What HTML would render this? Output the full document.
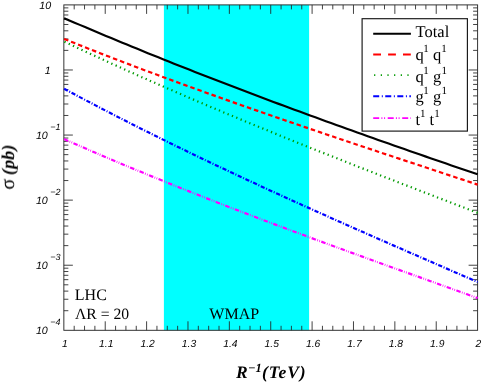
<!DOCTYPE html>
<html><head><meta charset="utf-8"><title>chart</title>
<style>html,body{margin:0;padding:0;background:#fff;}svg{display:block;}text{font-family:"Liberation Sans",sans-serif;fill:#000;text-rendering:geometricPrecision;}.ser{font-family:"Liberation Serif",serif;}.tk{font-family:"Liberation Sans",sans-serif;font-style:italic;}</style></head><body>
<svg width="481" height="382" viewBox="0 0 481 382">
<rect x="0" y="0" width="481" height="382" fill="#ffffff"/>
<rect x="163.9" y="4.9" width="145.20" height="325.40" fill="#00ffff"/>
<path d="M74.19,330.3 v-4.5 M74.19,4.9 v4.5 M84.54,330.3 v-4.5 M84.54,4.9 v4.5 M94.88,330.3 v-4.5 M94.88,4.9 v4.5 M105.23,330.3 v-9.0 M105.23,4.9 v9.0 M115.57,330.3 v-4.5 M115.57,4.9 v4.5 M125.91,330.3 v-4.5 M125.91,4.9 v4.5 M136.26,330.3 v-4.5 M136.26,4.9 v4.5 M146.60,330.3 v-9.0 M146.60,4.9 v9.0 M156.94,330.3 v-4.5 M156.94,4.9 v4.5 M167.29,330.3 v-4.5 M167.29,4.9 v4.5 M177.63,330.3 v-4.5 M177.63,4.9 v4.5 M187.98,330.3 v-9.0 M187.98,4.9 v9.0 M198.32,330.3 v-4.5 M198.32,4.9 v4.5 M208.66,330.3 v-4.5 M208.66,4.9 v4.5 M219.01,330.3 v-4.5 M219.01,4.9 v4.5 M229.35,330.3 v-9.0 M229.35,4.9 v9.0 M239.69,330.3 v-4.5 M239.69,4.9 v4.5 M250.04,330.3 v-4.5 M250.04,4.9 v4.5 M260.38,330.3 v-4.5 M260.38,4.9 v4.5 M270.73,330.3 v-9.0 M270.73,4.9 v9.0 M281.07,330.3 v-4.5 M281.07,4.9 v4.5 M291.41,330.3 v-4.5 M291.41,4.9 v4.5 M301.76,330.3 v-4.5 M301.76,4.9 v4.5 M312.10,330.3 v-9.0 M312.10,4.9 v9.0 M322.44,330.3 v-4.5 M322.44,4.9 v4.5 M332.79,330.3 v-4.5 M332.79,4.9 v4.5 M343.13,330.3 v-4.5 M343.13,4.9 v4.5 M353.48,330.3 v-9.0 M353.48,4.9 v9.0 M363.82,330.3 v-4.5 M363.82,4.9 v4.5 M374.16,330.3 v-4.5 M374.16,4.9 v4.5 M384.51,330.3 v-4.5 M384.51,4.9 v4.5 M394.85,330.3 v-9.0 M394.85,4.9 v9.0 M405.19,330.3 v-4.5 M405.19,4.9 v4.5 M415.54,330.3 v-4.5 M415.54,4.9 v4.5 M425.88,330.3 v-4.5 M425.88,4.9 v4.5 M436.22,330.3 v-9.0 M436.22,4.9 v9.0 M446.57,330.3 v-4.5 M446.57,4.9 v4.5 M456.91,330.3 v-4.5 M456.91,4.9 v4.5 M467.26,330.3 v-4.5 M467.26,4.9 v4.5 M63.85,310.71 h4.5 M477.6,310.71 h-4.5 M63.85,299.25 h4.5 M477.6,299.25 h-4.5 M63.85,291.12 h4.5 M477.6,291.12 h-4.5 M63.85,284.81 h4.5 M477.6,284.81 h-4.5 M63.85,279.66 h4.5 M477.6,279.66 h-4.5 M63.85,275.30 h4.5 M477.6,275.30 h-4.5 M63.85,271.53 h4.5 M477.6,271.53 h-4.5 M63.85,268.20 h4.5 M477.6,268.20 h-4.5 M63.85,265.22 h9.0 M477.6,265.22 h-9.0 M63.85,245.63 h4.5 M477.6,245.63 h-4.5 M63.85,234.17 h4.5 M477.6,234.17 h-4.5 M63.85,226.04 h4.5 M477.6,226.04 h-4.5 M63.85,219.73 h4.5 M477.6,219.73 h-4.5 M63.85,214.58 h4.5 M477.6,214.58 h-4.5 M63.85,210.22 h4.5 M477.6,210.22 h-4.5 M63.85,206.45 h4.5 M477.6,206.45 h-4.5 M63.85,203.12 h4.5 M477.6,203.12 h-4.5 M63.85,200.14 h9.0 M477.6,200.14 h-9.0 M63.85,180.55 h4.5 M477.6,180.55 h-4.5 M63.85,169.09 h4.5 M477.6,169.09 h-4.5 M63.85,160.96 h4.5 M477.6,160.96 h-4.5 M63.85,154.65 h4.5 M477.6,154.65 h-4.5 M63.85,149.50 h4.5 M477.6,149.50 h-4.5 M63.85,145.14 h4.5 M477.6,145.14 h-4.5 M63.85,141.37 h4.5 M477.6,141.37 h-4.5 M63.85,138.04 h4.5 M477.6,138.04 h-4.5 M63.85,135.06 h9.0 M477.6,135.06 h-9.0 M63.85,115.47 h4.5 M477.6,115.47 h-4.5 M63.85,104.01 h4.5 M477.6,104.01 h-4.5 M63.85,95.88 h4.5 M477.6,95.88 h-4.5 M63.85,89.57 h4.5 M477.6,89.57 h-4.5 M63.85,84.42 h4.5 M477.6,84.42 h-4.5 M63.85,80.06 h4.5 M477.6,80.06 h-4.5 M63.85,76.29 h4.5 M477.6,76.29 h-4.5 M63.85,72.96 h4.5 M477.6,72.96 h-4.5 M63.85,69.98 h9.0 M477.6,69.98 h-9.0 M63.85,50.39 h4.5 M477.6,50.39 h-4.5 M63.85,38.93 h4.5 M477.6,38.93 h-4.5 M63.85,30.80 h4.5 M477.6,30.80 h-4.5 M63.85,24.49 h4.5 M477.6,24.49 h-4.5 M63.85,19.34 h4.5 M477.6,19.34 h-4.5 M63.85,14.98 h4.5 M477.6,14.98 h-4.5 M63.85,11.21 h4.5 M477.6,11.21 h-4.5 M63.85,7.88 h4.5 M477.6,7.88 h-4.5" stroke="#222" stroke-width="0.85" fill="none"/>
<rect x="63.85" y="4.9" width="413.75" height="325.40" fill="none" stroke="#2a2a2a" stroke-width="0.95"/>
<g fill="none" stroke-linejoin="round">
<path d="M64.10,139.06 L69.33,141.38 L74.57,143.68 L79.80,145.97 L85.04,148.25 L90.27,150.52 L95.51,152.78 L100.74,155.02 L105.97,157.26 L111.21,159.48 L116.44,161.69 L121.68,163.89 L126.91,166.08 L132.14,168.27 L137.38,170.44 L142.61,172.60 L147.85,174.75 L153.08,176.89 L158.32,179.02 L163.55,181.14 L168.78,183.26 L174.02,185.36 L179.25,187.46 L184.49,189.55 L189.72,191.62 L194.95,193.69 L200.19,195.76 L205.42,197.81 L210.66,199.86 L215.89,201.90 L221.13,203.93 L226.36,205.96 L231.59,207.97 L236.83,209.99 L242.06,211.99 L247.30,213.99 L252.53,215.98 L257.76,217.96 L263.00,219.94 L268.23,221.92 L273.47,223.89 L278.70,225.85 L283.94,227.81 L289.17,229.76 L294.40,231.71 L299.64,233.65 L304.87,235.59 L310.11,237.52 L315.34,239.45 L320.57,241.37 L325.81,243.30 L331.04,245.21 L336.28,247.13 L341.51,249.04 L346.75,250.95 L351.98,252.85 L357.21,254.75 L362.45,256.65 L367.68,258.55 L372.92,260.44 L378.15,262.33 L383.38,264.22 L388.62,266.11 L393.85,268.00 L399.09,269.88 L404.32,271.77 L409.56,273.65 L414.79,275.53 L420.02,277.41 L425.26,279.29 L430.49,281.17 L435.73,283.05 L440.96,284.93 L446.19,286.81 L451.43,288.69 L456.66,290.57 L461.90,292.45 L467.13,294.34 L472.37,296.22 L477.60,298.10" stroke="#ff00ff" stroke-width="2.2" stroke-dasharray="4.5 1.45 0.7 1.45 0.7 1.4575"/>
<path d="M64.10,88.73 L69.33,91.54 L74.57,94.33 L79.80,97.11 L85.04,99.88 L90.27,102.63 L95.51,105.37 L100.74,108.10 L105.97,110.81 L111.21,113.51 L116.44,116.20 L121.68,118.88 L126.91,121.54 L132.14,124.20 L137.38,126.84 L142.61,129.47 L147.85,132.08 L153.08,134.69 L158.32,137.29 L163.55,139.87 L168.78,142.44 L174.02,145.01 L179.25,147.56 L184.49,150.10 L189.72,152.64 L194.95,155.16 L200.19,157.68 L205.42,160.18 L210.66,162.67 L215.89,165.16 L221.13,167.64 L226.36,170.11 L231.59,172.57 L236.83,175.02 L242.06,177.46 L247.30,179.90 L252.53,182.33 L257.76,184.75 L263.00,187.16 L268.23,189.57 L273.47,191.97 L278.70,194.36 L283.94,196.74 L289.17,199.12 L294.40,201.50 L299.64,203.86 L304.87,206.22 L310.11,208.58 L315.34,210.93 L320.57,213.27 L325.81,215.61 L331.04,217.94 L336.28,220.27 L341.51,222.60 L346.75,224.91 L351.98,227.23 L357.21,229.54 L362.45,231.85 L367.68,234.15 L372.92,236.45 L378.15,238.75 L383.38,241.04 L388.62,243.33 L393.85,245.62 L399.09,247.90 L404.32,250.19 L409.56,252.47 L414.79,254.74 L420.02,257.02 L425.26,259.29 L430.49,261.57 L435.73,263.84 L440.96,266.11 L446.19,268.38 L451.43,270.65 L456.66,272.91 L461.90,275.18 L467.13,277.45 L472.37,279.71 L477.60,281.98" stroke="#0000ff" stroke-width="2.2" stroke-dasharray="4.2 1.62 1.0 1.6226"/>
<path d="M64.10,41.57 L69.33,44.04 L74.57,46.50 L79.80,48.94 L85.04,51.38 L90.27,53.80 L95.51,56.22 L100.74,58.62 L105.97,61.02 L111.21,63.40 L116.44,65.77 L121.68,68.13 L126.91,70.49 L132.14,72.83 L137.38,75.16 L142.61,77.49 L147.85,79.80 L153.08,82.11 L158.32,84.40 L163.55,86.69 L168.78,88.97 L174.02,91.24 L179.25,93.50 L184.49,95.75 L189.72,98.00 L194.95,100.24 L200.19,102.46 L205.42,104.69 L210.66,106.90 L215.89,109.10 L221.13,111.30 L226.36,113.49 L231.59,115.68 L236.83,117.85 L242.06,120.02 L247.30,122.19 L252.53,124.34 L257.76,126.50 L263.00,128.64 L268.23,130.78 L273.47,132.91 L278.70,135.03 L283.94,137.15 L289.17,139.27 L294.40,141.38 L299.64,143.48 L304.87,145.58 L310.11,147.67 L315.34,149.76 L320.57,151.85 L325.81,153.92 L331.04,156.00 L336.28,158.07 L341.51,160.14 L346.75,162.20 L351.98,164.25 L357.21,166.31 L362.45,168.36 L367.68,170.41 L372.92,172.45 L378.15,174.49 L383.38,176.53 L388.62,178.56 L393.85,180.59 L399.09,182.62 L404.32,184.64 L409.56,186.67 L414.79,188.69 L420.02,190.71 L425.26,192.72 L430.49,194.74 L435.73,196.75 L440.96,198.76 L446.19,200.77 L451.43,202.78 L456.66,204.79 L461.90,206.80 L467.13,208.80 L472.37,210.81 L477.60,212.81" stroke="#009900" stroke-width="2.2" stroke-dasharray="1.3 3.3951" stroke-dashoffset="-0.35"/>
<path d="M64.10,38.91 L69.33,41.01 L74.57,43.10 L79.80,45.18 L85.04,47.26 L90.27,49.32 L95.51,51.37 L100.74,53.41 L105.97,55.44 L111.21,57.47 L116.44,59.48 L121.68,61.48 L126.91,63.48 L132.14,65.47 L137.38,67.45 L142.61,69.42 L147.85,71.38 L153.08,73.33 L158.32,75.28 L163.55,77.21 L168.78,79.14 L174.02,81.07 L179.25,82.98 L184.49,84.89 L189.72,86.79 L194.95,88.68 L200.19,90.57 L205.42,92.45 L210.66,94.32 L215.89,96.19 L221.13,98.05 L226.36,99.90 L231.59,101.75 L236.83,103.60 L242.06,105.43 L247.30,107.26 L252.53,109.09 L257.76,110.91 L263.00,112.73 L268.23,114.54 L273.47,116.34 L278.70,118.14 L283.94,119.94 L289.17,121.73 L294.40,123.52 L299.64,125.31 L304.87,127.09 L310.11,128.86 L315.34,130.64 L320.57,132.41 L325.81,134.17 L331.04,135.93 L336.28,137.69 L341.51,139.45 L346.75,141.21 L351.98,142.96 L357.21,144.71 L362.45,146.45 L367.68,148.20 L372.92,149.94 L378.15,151.68 L383.38,153.42 L388.62,155.16 L393.85,156.90 L399.09,158.63 L404.32,160.36 L409.56,162.10 L414.79,163.83 L420.02,165.56 L425.26,167.29 L430.49,169.02 L435.73,170.75 L440.96,172.48 L446.19,174.21 L451.43,175.94 L456.66,177.67 L461.90,179.41 L467.13,181.14 L472.37,182.87 L477.60,184.60" stroke="#ff0000" stroke-width="2.2" stroke-dasharray="4.5 3.0055"/>
<path d="M64.10,18.16 L69.33,20.41 L74.57,22.65 L79.80,24.88 L85.04,27.10 L90.27,29.32 L95.51,31.53 L100.74,33.72 L105.97,35.91 L111.21,38.09 L116.44,40.26 L121.68,42.43 L126.91,44.58 L132.14,46.73 L137.38,48.87 L142.61,51.00 L147.85,53.13 L153.08,55.24 L158.32,57.35 L163.55,59.45 L168.78,61.54 L174.02,63.63 L179.25,65.71 L184.49,67.78 L189.72,69.84 L194.95,71.89 L200.19,73.94 L205.42,75.99 L210.66,78.02 L215.89,80.05 L221.13,82.07 L226.36,84.08 L231.59,86.09 L236.83,88.09 L242.06,90.09 L247.30,92.07 L252.53,94.05 L257.76,96.03 L263.00,98.00 L268.23,99.96 L273.47,101.92 L278.70,103.87 L283.94,105.81 L289.17,107.75 L294.40,109.69 L299.64,111.61 L304.87,113.54 L310.11,115.45 L315.34,117.36 L320.57,119.27 L325.81,121.17 L331.04,123.07 L336.28,124.96 L341.51,126.84 L346.75,128.72 L351.98,130.60 L357.21,132.47 L362.45,134.33 L367.68,136.19 L372.92,138.05 L378.15,139.90 L383.38,141.75 L388.62,143.59 L393.85,145.43 L399.09,147.27 L404.32,149.10 L409.56,150.92 L414.79,152.75 L420.02,154.57 L425.26,156.38 L430.49,158.19 L435.73,160.00 L440.96,161.80 L446.19,163.60 L451.43,165.40 L456.66,167.19 L461.90,168.99 L467.13,170.77 L472.37,172.56 L477.60,174.34" stroke="#000000" stroke-width="2.15"/>
</g>
<g opacity="0.999">
<text class="tk" x="51.2" y="8.70" font-size="10.7" text-anchor="end">10</text>
<text class="tk" x="50.8" y="73.78" font-size="10.7" text-anchor="end">1</text>
<text class="tk" x="47.8" y="138.86" font-size="10.7" text-anchor="end">10</text>
<text class="tk" x="50.2" y="129.76" font-size="9">−1</text>
<text class="tk" x="47.8" y="203.94" font-size="10.7" text-anchor="end">10</text>
<text class="tk" x="50.2" y="194.84" font-size="9">−2</text>
<text class="tk" x="47.8" y="269.02" font-size="10.7" text-anchor="end">10</text>
<text class="tk" x="50.2" y="259.92" font-size="9">−3</text>
<text class="tk" x="47.8" y="334.10" font-size="10.7" text-anchor="end">10</text>
<text class="tk" x="50.2" y="325.00" font-size="9">−4</text>
<text class="tk" x="64.85" y="346.6" font-size="10.3" text-anchor="middle">1</text>
<text class="tk" x="106.23" y="346.6" font-size="10.3" text-anchor="middle">1.1</text>
<text class="tk" x="147.60" y="346.6" font-size="10.3" text-anchor="middle">1.2</text>
<text class="tk" x="188.98" y="346.6" font-size="10.3" text-anchor="middle">1.3</text>
<text class="tk" x="230.35" y="346.6" font-size="10.3" text-anchor="middle">1.4</text>
<text class="tk" x="271.73" y="346.6" font-size="10.3" text-anchor="middle">1.5</text>
<text class="tk" x="313.10" y="346.6" font-size="10.3" text-anchor="middle">1.6</text>
<text class="tk" x="354.48" y="346.6" font-size="10.3" text-anchor="middle">1.7</text>
<text class="tk" x="395.85" y="346.6" font-size="10.3" text-anchor="middle">1.8</text>
<text class="tk" x="437.22" y="346.6" font-size="10.3" text-anchor="middle">1.9</text>
<text class="tk" x="475.60" y="346.6" font-size="10.3" text-anchor="start">2</text>
<text class="ser" x="236" y="377.5" font-size="17.5" font-weight="bold" font-style="italic">R<tspan font-size="12.5" dy="-6" dx="0.3">−1</tspan><tspan dy="6" dx="0.1" letter-spacing="0.9">(TeV)</tspan></text>
<text class="ser" transform="translate(14,189.6) rotate(-90)" font-size="18"><tspan font-size="20">σ</tspan><tspan font-weight="bold" font-style="italic" dx="3.8" letter-spacing="0.13">(pb)</tspan></text>
<text class="ser" x="74.8" y="299.6" font-size="16">LHC</text>
<text class="ser" x="75.0" y="319.0" font-size="15.7">ΛR = 20</text>
<text class="ser" x="209.3" y="318.8" font-size="16">WMAP</text>
<rect x="362.1" y="18.7" width="105.3" height="112.4" fill="#ffffff" stroke="#161616" stroke-width="1.15"/>
<g fill="none">
<path d="M373.2,33.7 H410.9" stroke="#000" stroke-width="1.9"/>
<path d="M373.2,54.5 H410.9" stroke="#ff0000" stroke-width="1.9" stroke-dasharray="7.8 7.1"/>
<path d="M374.1,75.1 H410.9" stroke="#009900" stroke-width="1.9" stroke-dasharray="1.2 5.46"/>
<path d="M373.2,96.2 H410.9" stroke="#0000ff" stroke-width="1.9" stroke-dasharray="6 2.6 1 2.45"/>
<path d="M373.2,118.1 H410.9" stroke="#ff00ff" stroke-width="1.9" stroke-dasharray="6 2.2 1 1.7 1 2.6"/>
</g>
<text class="ser" x="415.6" y="37.4" font-size="16.5">Total</text>
<text class="ser" x="415.5" y="59.6" font-size="16.5">q</text>
<text class="ser" x="423.2" y="51.60" font-size="11">1</text>
<text class="ser" x="432.9" y="59.6" font-size="16.5">q</text>
<text class="ser" x="441.3" y="51.60" font-size="11">1</text>
<text class="ser" x="415.5" y="81.6" font-size="16.5">q</text>
<text class="ser" x="423.2" y="73.60" font-size="11">1</text>
<text class="ser" x="433.1" y="81.6" font-size="16.5">g</text>
<text class="ser" x="441.5" y="73.60" font-size="11">1</text>
<text class="ser" x="415.5" y="102.4" font-size="16.5">g</text>
<text class="ser" x="423.2" y="94.40" font-size="11">1</text>
<text class="ser" x="433.1" y="102.4" font-size="16.5">g</text>
<text class="ser" x="441.5" y="94.40" font-size="11">1</text>
<text class="ser" x="415.5" y="124.9" font-size="16.5">t</text>
<text class="ser" x="419.9" y="116.90" font-size="11">1</text>
<text class="ser" x="429.4" y="124.9" font-size="16.5">t</text>
<text class="ser" x="434.3" y="116.90" font-size="11">1</text>
</g>
</svg></body></html>
